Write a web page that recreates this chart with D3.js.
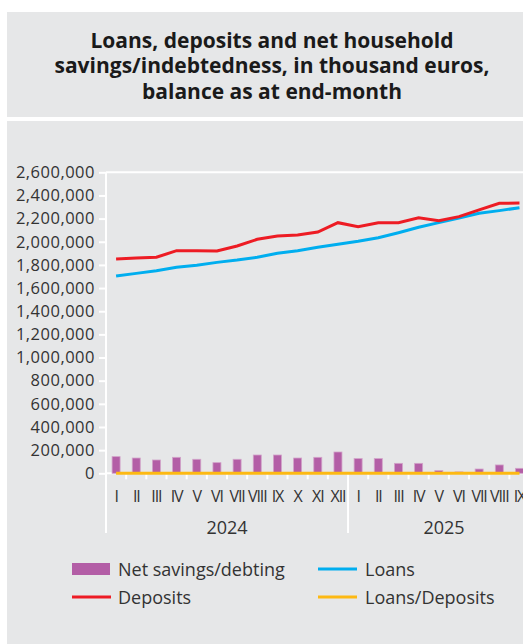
<!DOCTYPE html>
<html>
<head>
<meta charset="utf-8">
<script src="https://cdn.jsdelivr.net/npm/d3@7"></script>
<style>
  html, body { margin: 0; padding: 0; background: #ffffff; }
  svg { display: block; font-family: "Open Sans", "DejaVu Sans", sans-serif; }
</style>
</head>
<body>
<svg id="chart" width="523" height="644"></svg>
<script>
// Monthly categories (2024 I – 2025 IX)
const months = ["I","II","III","IV","V","VI","VII","VIII","IX","X","XI","XII",
                "I","II","III","IV","V","VI","VII","VIII","IX"];
const years = ["2024","2024","2024","2024","2024","2024","2024","2024","2024","2024","2024","2024",
               "2025","2025","2025","2025","2025","2025","2025","2025","2025"];

// Balances, thousand euros
const netSavings = [144000,132000,115000,138000,121000,92000,121000,158000,158000,132000,138000,184000,
                    127000,127000,86000,86000,23000,12000,37000,72000,43000];
const deposits = [1851000,1860000,1866000,1923000,1923000,1920000,1963000,2021000,2050000,2058000,2084000,2165000,
                  2130000,2165000,2165000,2208000,2182000,2217000,2275000,2332000,2335000];
const loans = [1704000,1727000,1750000,1779000,1797000,1822000,1842000,1866000,1900000,1923000,1952000,1978000,
               2004000,2035000,2078000,2125000,2165000,2205000,2246000,2269000,2294000];
const loansToDeposits = [0.92,0.93,0.94,0.93,0.93,0.95,0.94,0.92,0.93,0.93,0.94,0.91,
                         0.94,0.94,0.96,0.96,0.99,0.99,0.99,0.97,0.98];

const yTicks = [0,200000,400000,600000,800000,1000000,1200000,1400000,1600000,1800000,
                2000000,2200000,2400000,2600000];
const yearLabels = ["2024","2025"];

const legendItems = [
  {label: "Net savings/debting", type: "bar", color: "#b35ea6"},
  {label: "Loans", type: "line", color: "#00aeef"},
  {label: "Deposits", type: "line", color: "#ed1c24"},
  {label: "Loans/Deposits", type: "line", color: "#fdb913"}
];

const svg = d3.select("#chart");
const panel = "#e6e7e8";

// Title box and chart panel
svg.append("rect").attr("x", 7).attr("y", 12).attr("width", 530).attr("height", 105).attr("fill", panel);
svg.append("rect").attr("x", 7).attr("y", 121).attr("width", 530).attr("height", 530).attr("fill", panel);

const titleLines = ["Loans, deposits and net household",
                    "savings/indebtedness, in thousand euros,",
                    "balance as at end-month"];
svg.append("g").selectAll("text").data(titleLines).join("text")
  .attr("x", 272).attr("y", (d, i) => 47.5 + i * 25.5)
  .attr("text-anchor", "middle")
  .attr("font-size", 21).attr("font-weight", 700).attr("fill", "#1a1a1a")
  .text(d => d);

// Scales
const left = 106, step = 20.17;
const x = d3.scaleBand().domain(d3.range(months.length))
  .range([left, left + step * months.length]).padding(0);
const y = d3.scaleLinear().domain([0, 2600000]).range([473.3, 172.3]);
const cx = i => x(i) + x.bandwidth() / 2;

// Top frame line
svg.append("line").attr("x1", left).attr("x2", 523).attr("y1", y(2600000)).attr("y2", y(2600000))
  .attr("stroke", "#fff").attr("stroke-width", 2);

// Y axis
const yAxis = svg.append("g").attr("transform", `translate(${left},0)`)
  .call(d3.axisLeft(y).tickValues(yTicks).tickSize(7).tickPadding(4)
    .tickFormat(d3.format(",")));
yAxis.select(".domain").remove();
yAxis.selectAll(".tick line").attr("stroke", "#fff").attr("stroke-width", 2);
yAxis.selectAll(".tick text").attr("font-size", 16.5).attr("fill", "#333")
  .attr("letter-spacing", "0.5px").attr("font-family", "'Open Sans', sans-serif");

// Vertical axis line
svg.append("line").attr("x1", left).attr("x2", left).attr("y1", y(2600000)).attr("y2", 533)
  .attr("stroke", "#fff").attr("stroke-width", 2);

// X axis line
svg.append("line").attr("x1", left).attr("x2", 523).attr("y1", y(0)).attr("y2", y(0))
  .attr("stroke", "#fff").attr("stroke-width", 2);

// Category boundary ticks
svg.append("g").selectAll("line").data(d3.range(1, months.length)).join("line")
  .attr("x1", i => x(i)).attr("x2", i => x(i))
  .attr("y1", y(0)).attr("y2", i => years[i] !== years[i - 1] ? 533 : y(0) + 6)
  .attr("stroke", "#fff").attr("stroke-width", 2);

// Month labels
svg.append("g").selectAll("text").data(months).join("text")
  .attr("x", (d, i) => cx(i)).attr("y", 501.5)
  .attr("text-anchor", "middle").attr("font-size", 16).attr("letter-spacing", "-1.1px")
  .attr("fill", "#333").text(d => d);

// Year labels
svg.append("g").selectAll("text").data(yearLabels).join("text")
  .attr("x", d => {
    const idx = years.map((v, i) => v === d ? i : -1).filter(i => i >= 0);
    return d === "2024" ? (x(idx[0]) + x(idx[idx.length - 1]) + x.bandwidth()) / 2 : 444;
  })
  .attr("y", 533.5).attr("text-anchor", "middle").attr("font-size", 18).attr("fill", "#333")
  .text(d => d);

// Net savings bars
const barW = 8;
svg.append("g").selectAll("rect").data(netSavings).join("rect")
  .attr("x", (d, i) => cx(i) - barW / 2).attr("width", barW)
  .attr("y", d => y(d)).attr("height", d => y(0) - y(d))
  .attr("fill", "#b35ea6").attr("stroke", "#d2a3c9").attr("stroke-width", 0.8);

// Lines
const line = d3.line().x((d, i) => cx(i)).y(d => y(d));
svg.append("path").datum(loans).attr("d", line)
  .attr("fill", "none").attr("stroke", "#00aeef").attr("stroke-width", 3);
svg.append("path").datum(deposits).attr("d", line)
  .attr("fill", "none").attr("stroke", "#ed1c24").attr("stroke-width", 3);
svg.append("path").datum(loansToDeposits).attr("d", line)
  .attr("fill", "none").attr("stroke", "#fdb913").attr("stroke-width", 3);

// Legend
const legPos = [[72, 569], [318, 569], [72, 597], [318, 597]];
const leg = svg.append("g").selectAll("g").data(legendItems).join("g")
  .attr("transform", (d, i) => `translate(${legPos[i][0]},${legPos[i][1]})`);
leg.filter(d => d.type === "bar").append("rect")
  .attr("x", 0).attr("y", -6).attr("width", 38).attr("height", 12).attr("fill", d => d.color);
leg.filter(d => d.type === "line").append("line")
  .attr("x1", 0).attr("x2", 39).attr("y1", 0).attr("y2", 0)
  .attr("stroke", d => d.color).attr("stroke-width", 3);
leg.append("text").attr("x", (d, i) => i % 2 === 0 ? 46 : 47).attr("y", 6.5)
  .attr("font-size", 18).attr("fill", "#333").text(d => d.label);
</script>
</body>
</html>
